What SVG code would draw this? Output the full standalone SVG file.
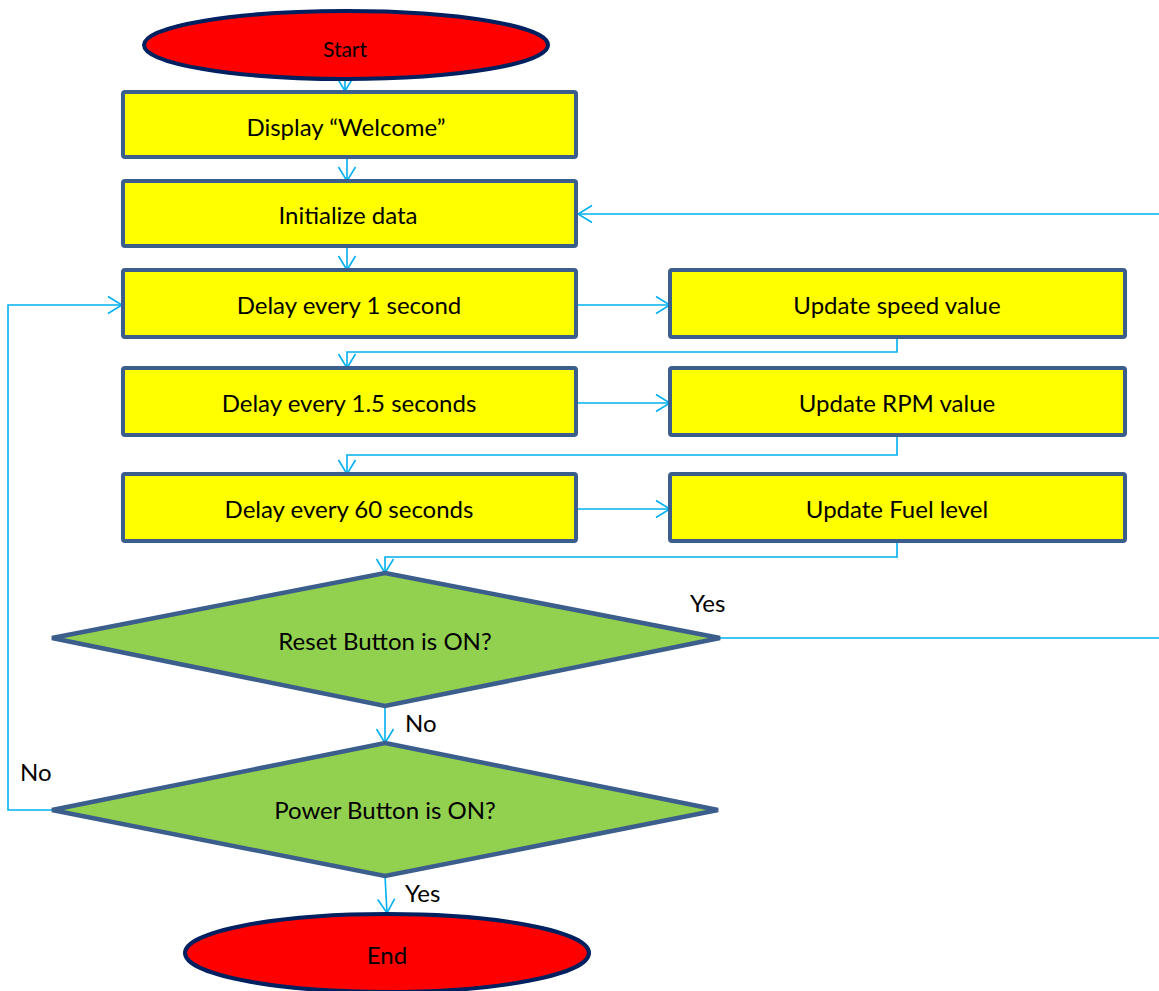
<svg xmlns="http://www.w3.org/2000/svg" width="1159" height="991" viewBox="0 0 1159 991">
<style>
text{font-family:Lato,"Open Sans","Liberation Sans",sans-serif;font-size:24px;fill:#000;text-anchor:middle;dominant-baseline:central}
.lbl{text-anchor:start}
.box{fill:#FFFF00;stroke:#3B5E8C;stroke-width:4}
.dec{fill:#92D050;stroke:#3B5E8C;stroke-width:4.5;stroke-linejoin:miter}
.term{fill:#FF0000;stroke:#002060;stroke-width:4}
.con{fill:none;stroke:#00B0F0;stroke-width:1.6}
</style>
<defs>
<marker id="arr" viewBox="0 0 16 20" refX="15" refY="10" markerWidth="16" markerHeight="20" markerUnits="userSpaceOnUse" orient="auto">
<path d="M1,1.5 L15,10 L1,18.5" fill="none" stroke="#00B0F0" stroke-width="1.6"/>
</marker>
</defs>
<g id="connectors">
<path class="con" d="M345,68 V91" marker-end="url(#arr)"/>
<path class="con" d="M347,157 V181" marker-end="url(#arr)"/>
<path class="con" d="M347,246 V270" marker-end="url(#arr)"/>
<path class="con" d="M1159,214 H578" marker-end="url(#arr)"/>
<path class="con" d="M576,305 H670" marker-end="url(#arr)"/>
<path class="con" d="M897,337 V352 H347 V368" marker-end="url(#arr)"/>
<path class="con" d="M576,403 H670" marker-end="url(#arr)"/>
<path class="con" d="M897,435 V455 H347 V474" marker-end="url(#arr)"/>
<path class="con" d="M576,509 H670" marker-end="url(#arr)"/>
<path class="con" d="M897,541 V557 H385 V573" marker-end="url(#arr)"/>
<path class="con" d="M720,638 H1159"/>
<path class="con" d="M385,706 V743" marker-end="url(#arr)"/>
<path class="con" d="M52,810 H8 V305 H122" marker-end="url(#arr)"/>
<path class="con" d="M385,876 L387,913" marker-end="url(#arr)"/>
</g>
<g id="start"><ellipse class="term" cx="346" cy="45" rx="202" ry="34"/><text x="345" y="48" style="font-size:21px">Start</text></g>
<g id="welcome"><rect class="box" x="123" y="92" width="453" height="65" rx="2"/><text x="346" y="126">Display “Welcome”</text></g>
<g id="init"><rect class="box" x="123" y="181" width="453" height="65" rx="2"/><text x="348" y="214">Initialize data</text></g>
<g id="delay1"><rect class="box" x="123" y="270" width="453" height="67" rx="2"/><text x="349" y="304">Delay every 1 second</text></g>
<g id="speed"><rect class="box" x="670" y="270" width="455" height="67" rx="2"/><text x="897" y="304">Update speed value</text></g>
<g id="delay15"><rect class="box" x="123" y="368" width="453" height="67" rx="2"/><text x="349" y="402">Delay every 1.5 seconds</text></g>
<g id="rpm"><rect class="box" x="670" y="368" width="455" height="67" rx="2"/><text x="897" y="402">Update RPM value</text></g>
<g id="delay60"><rect class="box" x="123" y="474" width="453" height="67" rx="2"/><text x="349" y="508">Delay every 60 seconds</text></g>
<g id="fuel"><rect class="box" x="670" y="474" width="455" height="67" rx="2"/><text x="897" y="508">Update Fuel level</text></g>
<g id="reset"><polygon class="dec" points="385,573 720,638 385,706 52,638"/><text x="385" y="640">Reset Button is ON?</text></g>
<g id="power"><polygon class="dec" points="385,743 718,810 385,876 52,810"/><text x="385" y="809">Power Button is ON?</text></g>
<g id="end"><ellipse class="term" cx="387" cy="953" rx="202" ry="39"/><text x="387" y="954">End</text></g>
<g id="labels">
<text class="lbl" x="690" y="602">Yes</text>
<text class="lbl" x="405" y="722">No</text>
<text class="lbl" x="20" y="771">No</text>
<text class="lbl" x="405" y="892">Yes</text>
</g>
</svg>
